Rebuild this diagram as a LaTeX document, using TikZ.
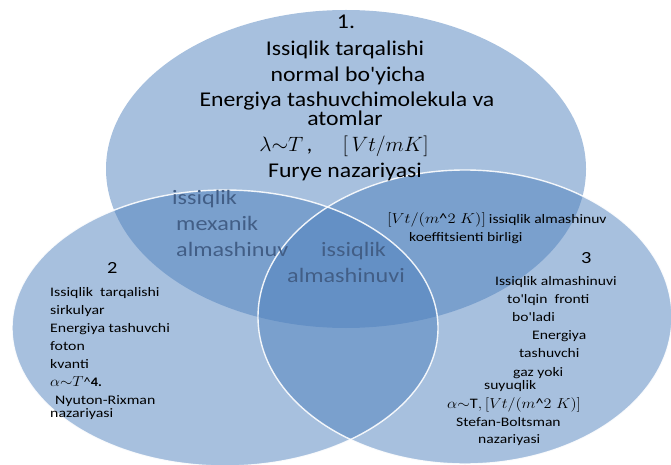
\documentclass[tikz,border=0pt]{standalone}
\usepackage{fontspec}
\usepackage{graphicx}
\setmainfont{Carlito}
\newcommand\sx[2]{\scalebox{#1}[1]{#2}}
\newcommand\apos{\textquotesingle}
\newcommand\mth[1]{{\fontsize{14.5}{16}\selectfont #1}}
\definecolor{vblue}{RGB}{79,129,189}
\definecolor{ovtext}{RGB}{66,94,134}
\tikzset{
  venn/.style={fill=vblue, fill opacity=0.5, draw=none},
  rim/.style={draw=white, line width=1.4pt, draw opacity=0.9},
  toptxt/.style={anchor=base, inner sep=0pt, font=\fontsize{21}{24}\selectfont},
  sidetxt/.style={anchor=base west, inner sep=0pt, font=\fontsize{13}{15}\selectfont},
  numtxt/.style={anchor=base west, inner sep=0pt, font=\fontsize{17}{19}\selectfont},
  ovtxt/.style={anchor=base west, inner sep=0pt, text=ovtext, font=\fontsize{20.5}{23}\selectfont},
}
\begin{document}
\begin{tikzpicture}[x=1pt,y=-1pt]
\useasboundingbox (0,0) rectangle (671,465);
\clip (0,0) rectangle (671,465);
% ellipses
\fill[venn] (346,169) ellipse [x radius=240, y radius=159];
\fill[venn] (225,328) ellipse [x radius=213, y radius=138];
\fill[venn] (465,317) ellipse [x radius=207, y radius=147];
\draw[rim] (225,328) ellipse [x radius=213, y radius=138];
\draw[rim] (465,317) ellipse [x radius=207, y radius=147];
% top ellipse text
\node[toptxt] (t0) at (346,29) {\sx{1.13}{1.}};
\node[toptxt] (t1) at (345,56) {\sx{1.13}{Issiqlik tarqalishi}};
\node[toptxt] (t2) at (348,82) {\sx{1.13}{normal bo\apos yicha}};
\node[toptxt] (t3) at (347,107) {\sx{1.13}{Energiya tashuvchimolekula va}};
\node[toptxt] (t4) at (345,126) {\sx{1.13}{atomlar}};
\node[toptxt] (t5) at (344,152) {\sx{1.03}{$\lambda{\sim}T$\,,\hspace{1.4em}$[\,Vt/mK]$}};
\node[toptxt] (t6) at (345,177) {\sx{1.13}{Furye nazariyasi}};
% left ellipse text
\node[numtxt] (l0) at (107,273) {\sx{1.2}{2}};
\node[sidetxt] (l1) at (50,296) {\sx{1.22}{Issiqlik\ \ tarqalishi}};
\node[sidetxt] (l2) at (50,314) {\sx{1.22}{sirkulyar}};
\node[sidetxt] (l3) at (50,332) {\sx{1.22}{Energiya tashuvchi}};
\node[sidetxt] (l4) at (50,350) {\sx{1.22}{foton}};
\node[sidetxt] (l5) at (50,368) {\sx{1.22}{kvanti}};
\node[sidetxt] (l6) at (50,386) {\sx{1.1}{\mth{$\alpha{\sim}T$}\textasciicircum\textbf{4.}}};
\node[sidetxt] (l7) at (55,404) {\sx{1.22}{Nyuton-Rixman}};
\node[sidetxt] (l8) at (50,417) {\sx{1.22}{nazariyasi}};
% overlap texts
\node[ovtxt] (o1) at (172,204) {\sx{1.18}{issiqlik}};
\node[ovtxt] (o2) at (176,230) {\sx{1.18}{mexanik}};
\node[ovtxt] (o3) at (176,256) {\sx{1.18}{almashinuv}};
\node[ovtxt] (o4) at (321,256) {\sx{1.18}{issiqlik}};
\node[ovtxt] (o5) at (287,282) {\sx{1.18}{almashinuvi}};
% right ellipse text
\node[sidetxt] (r1) at (387,223) {\sx{1.15}{\mth{$[Vt/(m$\textasciicircum$2\;K)]$}} \sx{1.2}{issiqlik almashinuv}};
\node[sidetxt] (r2) at (409,241) {\sx{1.2}{koeffitsienti birligi}};
\node[numtxt] (r0) at (581,263) {\sx{1.2}{3}};
\node[sidetxt] (r3) at (495,285) {\sx{1.2}{Issiqlik almashinuvi}};
\node[sidetxt] (r4) at (507,303) {\sx{1.2}{to\apos lqin\ \ fronti}};
\node[sidetxt] (r5) at (512,321) {\sx{1.2}{bo\apos ladi}};
\node[sidetxt] (r6) at (532,339) {\sx{1.2}{Energiya}};
\node[sidetxt] (r7) at (519,357) {\sx{1.2}{tashuvchi}};
\node[sidetxt] (r8) at (513,376) {\sx{1.2}{gaz yoki}};
\node[sidetxt] (r9) at (484,389) {\sx{1.2}{suyuqlik}};
\node[sidetxt] (r10) at (447,408) {\sx{1.12}{\mth{$\alpha{\sim}\mathrm{T},[Vt/(m$\textasciicircum$2\;K)]$}}};
\node[sidetxt] (r11) at (456,426) {\sx{1.2}{Stefan-Boltsman}};
\node[sidetxt] (r12) at (478,443) {\sx{1.2}{nazariyasi}};
\end{tikzpicture}
\end{document}
